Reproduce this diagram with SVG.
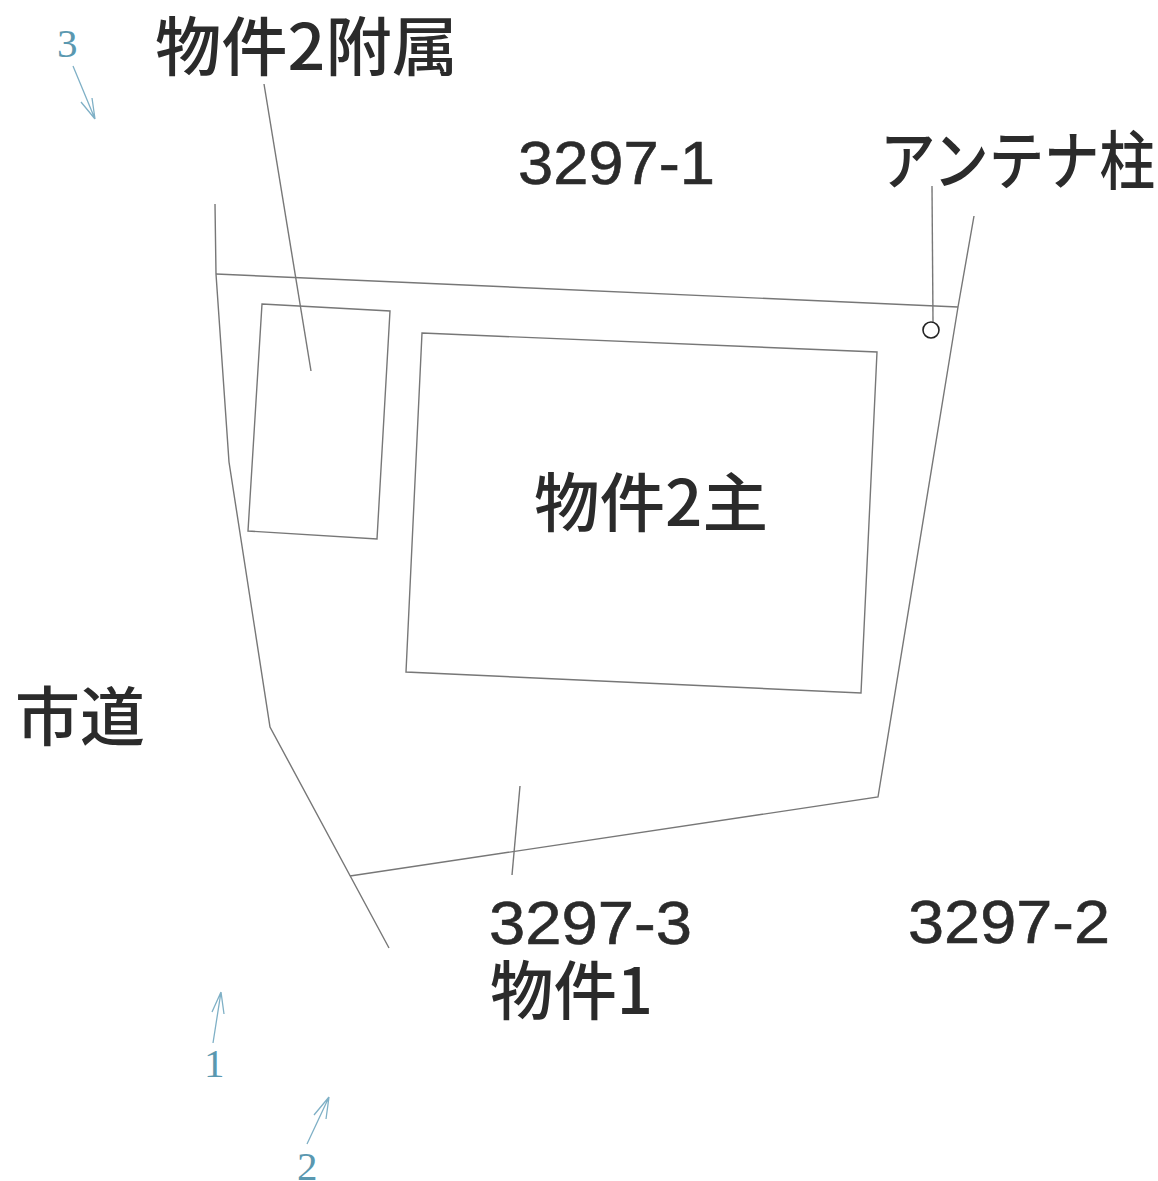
<svg xmlns="http://www.w3.org/2000/svg" width="1158" height="1181" viewBox="0 0 1158 1181">
<style>
.l{fill:none;stroke:#777;stroke-width:1.4}
.a{fill:none;stroke:#7fb0c6;stroke-width:1.3}
.t{font-family:"Noto Sans CJK JP","DejaVu Sans",sans-serif;font-weight:500;fill:#2b2b2b;font-size:64px}
.d{font-family:"Liberation Sans","Noto Sans CJK JP",sans-serif;fill:#2b2b2b;font-size:62px;stroke:#2b2b2b;stroke-width:.6}
.n{font-family:"Liberation Serif",serif;fill:#5a98b0;font-size:41px}
</style>
<rect width="1158" height="1181" fill="#fff"/>
<g id="connectors">
<path class="l" d="M215 204L216 274L229 462L270 727L389 948"/>
<path class="l" d="M216 274L958 307"/>
<path class="l" d="M974 216L958 307L878 797L350 876"/>
<path class="l" d="M264 84L311 371"/>
<path class="l" d="M932 186L933 322"/>
<path class="l" d="M520 786L512 875"/>
<path class="a" d="M73 66L95 119M95 119L92 98M95 119L81 102"/>
<path class="a" d="M213 1043L221 992M221 992L212 1012M221 992L224 1014"/>
<path class="a" d="M307 1144L329 1097M329 1097L314 1115M329 1097L326 1119"/>
</g>
<g id="annex"><path class="l" d="M262 304L390 311L377 539L248 531Z"/></g>
<g id="main"><path class="l" d="M422 333L877 352L861 693L406 672Z"/></g>
<g id="antenna"><circle cx="931" cy="330" r="8" fill="none" stroke="#222" stroke-width="1.600"/></g>
<g id="labels">
<text class="t" x="155" y="70" textLength="303" lengthAdjust="spacingAndGlyphs">物件2附属</text>
<text class="d" x="518" y="184" textLength="197" lengthAdjust="spacingAndGlyphs">3297-1</text>
<text class="t" x="880" y="184" textLength="275" lengthAdjust="spacingAndGlyphs">アンテナ柱</text>
<text class="t" x="534" y="526" textLength="234" lengthAdjust="spacingAndGlyphs">物件2主</text>
<text class="t" x="15" y="740" textLength="130" lengthAdjust="spacingAndGlyphs">市道</text>
<text class="d" x="489" y="944" textLength="203" lengthAdjust="spacingAndGlyphs">3297-3</text>
<text class="d" x="908" y="943" textLength="202" lengthAdjust="spacingAndGlyphs">3297-2</text>
<text class="t" x="490" y="1014" textLength="163" lengthAdjust="spacingAndGlyphs">物件1</text>
<text class="n" x="57" y="57">3</text>
<text class="n" x="204" y="1077">1</text>
<text class="n" x="297" y="1180">2</text>
</g>
</svg>
